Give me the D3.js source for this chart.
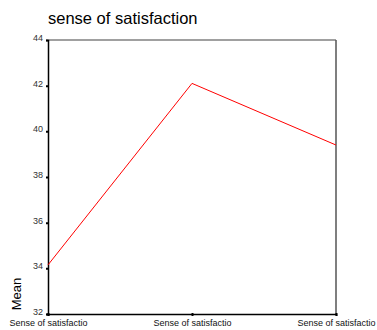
<!DOCTYPE html>
<html>
<head>
<meta charset="utf-8">
<script src="https://cdn.jsdelivr.net/npm/d3@7"></script>
<style>
  body { margin: 0; background: #fff; }
  svg { font-family: "Liberation Sans", Arial, sans-serif; }
</style>
</head>
<body>
<svg id="chart" width="377" height="330"></svg>
<script>
// chart data
const categories = ["Sense of satisfactio 1", "Sense of satisfactio 2", "Sense of satisfactio 3"];
const categoryLabels = ["Sense of satisfactio", "Sense of satisfactio", "Sense of satisfactio"];
const means = [34.15, 42.1, 39.4];
const yTicks = [32, 34, 36, 38, 40, 42, 44];

const margin = {top: 40, right: 41, bottom: 16, left: 48};
const width = 377 - margin.left - margin.right;
const height = 330 - margin.top - margin.bottom;

const svg = d3.select("#chart");
const g = svg.append("g")
    .attr("transform", "translate(" + margin.left + "," + margin.top + ")");

const x = d3.scalePoint()
    .domain(categories)
    .range([0, width]);

const y = d3.scaleLinear()
    .domain([32, 44])
    .range([height, 0]);

// frame: top and right in gray
g.append("line")
    .attr("x1", 0).attr("x2", width)
    .attr("y1", 0).attr("y2", 0)
    .attr("stroke", "#808080").attr("stroke-width", 1.5);
g.append("line")
    .attr("x1", width).attr("x2", width)
    .attr("y1", 0).attr("y2", height)
    .attr("stroke", "#555").attr("stroke-width", 1.5);

// y axis
const yAxis = g.append("g")
    .call(d3.axisLeft(y).tickValues(yTicks).tickSize(2).tickPadding(3));
yAxis.select(".domain").attr("stroke", "#000").attr("stroke-width", 1.5);
yAxis.selectAll(".tick line").attr("stroke", "#000").attr("stroke-width", 2);
yAxis.selectAll(".tick text")
    .attr("fill", "#333")
    .attr("dy", "0.05em")
    .style("font-size", "9px")
    .style("font-family", "\"Liberation Sans\", Arial, sans-serif");

// x axis
const xAxis = g.append("g")
    .attr("transform", "translate(0," + height + ")")
    .call(d3.axisBottom(x).tickSize(2).tickPadding(4)
        .tickFormat((d, i) => categoryLabels[i]));
xAxis.select(".domain").attr("stroke", "#000").attr("stroke-width", 1.5);
xAxis.selectAll(".tick line").attr("stroke", "#000").attr("stroke-width", 2)
    .attr("y1", -1).attr("y2", 2);
xAxis.selectAll(".tick text")
    .attr("fill", "#111")
    .style("font-size", "9px")
    .style("font-family", "\"Liberation Sans\", Arial, sans-serif");

// mean line
const line = d3.line()
    .x((d, i) => x(categories[i]))
    .y(d => y(d));

g.append("path")
    .datum(means)
    .attr("fill", "none")
    .attr("stroke", "#ff0000")
    .attr("stroke-width", 1)
    .attr("d", line);

// title
svg.append("text")
    .attr("x", 48)
    .attr("y", 24)
    .style("font-size", "16.5px")
    .attr("fill", "#000")
    .text("sense of satisfaction");

// y label
svg.append("text")
    .attr("transform", "translate(21,294) rotate(-90)")
    .attr("text-anchor", "middle")
    .style("font-size", "13px")
    .attr("fill", "#000")
    .text("Mean");
</script>
</body>
</html>
